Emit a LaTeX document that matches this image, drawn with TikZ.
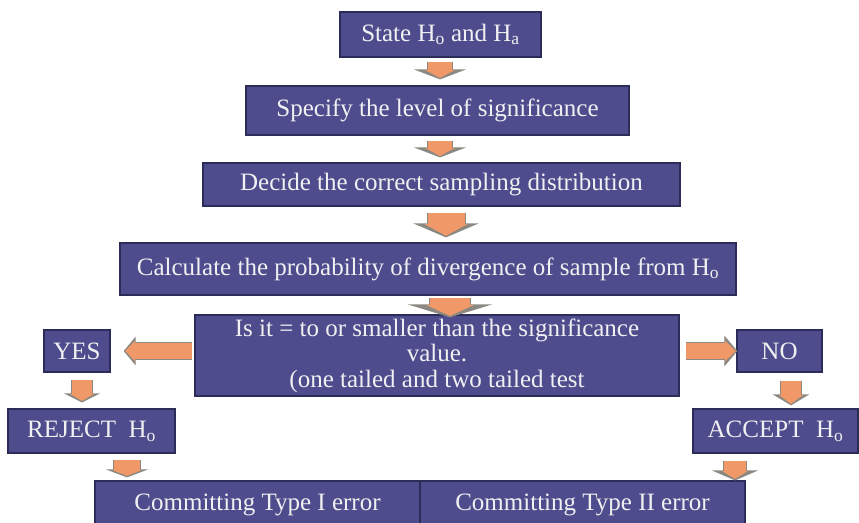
\documentclass[tikz,border=0pt]{standalone}
\usepackage{fontspec}
\setmainfont{Liberation Serif}
\usetikzlibrary{arrows.meta}

\definecolor{boxfill}{RGB}{78,76,140}
\definecolor{boxline}{RGB}{44,44,88}
\definecolor{boxtext}{RGB}{240,240,242}
\definecolor{arroworange}{RGB}{240,152,104}
\definecolor{arrowgrey}{RGB}{138,136,128}

\tikzset{
  stepbox/.style={rectangle, draw=boxline, line width=1.2pt, fill=boxfill,
    text=boxtext, inner sep=0pt, align=center,
    font=\fontsize{25}{25.5}\selectfont},
  % grey outer block arrow: shaft width, head width, head length
  outerarrow/.style n args={3}{draw=arrowgrey, line width=#1,
    -{Triangle[width=#2,length=#3]}},
  % orange inner block arrow laid over the grey one
  innerarrow/.style n args={3}{draw=arroworange, line width=#1,
    shorten >=1.5pt, -{Triangle[width=#2,length=#3]}},
}

% block arrow between two points: from, to, shaft, head width, head length, inner head width
\newcommand\blockarrow[6]{%
  \draw[outerarrow={#3+2pt}{#4}{#5}] #1 -- #2;
  \draw[innerarrow={#3}{#6}{#5-2pt}] #1 -- #2;
}

\begin{document}
\begin{tikzpicture}[x=1pt,y=-1pt]
  \useasboundingbox[fill=white] (0,0) rectangle (859,522);

  % main chain of steps
  \node[stepbox, minimum width=201pt, minimum height=45pt] (s1) at (440.5,34.5)
    {State H\textsubscript{o} and H\textsubscript{a}};
  \node[stepbox, minimum width=383pt, minimum height=49pt] (s2) at (437.5,110.5)
    {Specify the level of significance};
  \node[stepbox, minimum width=477pt, minimum height=43pt] (s3) at (441.5,184.5)
    {Decide the correct sampling distribution};
  \node[stepbox, minimum width=616pt, minimum height=52pt] (s4) at (428,269)
    {Calculate the probability of divergence of sample from H\textsubscript{o}};
  \node[stepbox, minimum width=484pt, minimum height=81pt] (s5) at (437,355.5)
    {Is it = to or smaller than the significance\\value.\\(one tailed and two tailed test};

  % decision branches
  \node[stepbox, minimum width=66pt, minimum height=42pt] (yes) at (77,351) {YES};
  \node[stepbox, minimum width=85pt, minimum height=42pt] (no) at (779.5,351) {NO};
  \node[stepbox, minimum width=167pt, minimum height=44pt] (rej) at (91.5,431)
    {REJECT\ \ H\textsubscript{o}};
  \node[stepbox, minimum width=165pt, minimum height=44pt] (acc) at (775.5,431)
    {ACCEPT\ \ H\textsubscript{o}};

  % error outcomes
  \node[stepbox, minimum width=325pt, minimum height=47pt] (c1) at (257.5,504.5)
    {Committing Type I error};
  \node[stepbox, minimum width=325pt, minimum height=47pt] (c2) at (582.5,504.5)
    {Committing Type II error};

  % block arrows
  \blockarrow{([xshift=-0.5pt,yshift=-4pt]s1.south)}{([xshift=2.5pt,yshift=6pt]s2.north)}{24pt}{52pt}{10pt}{30pt}
  \blockarrow{([xshift=2.5pt,yshift=-5pt]s2.south)}{([xshift=-1.5pt,yshift=5pt]s3.north)}{24pt}{52pt}{10pt}{30pt}
  \blockarrow{([xshift=4.5pt,yshift=-6pt]s3.south)}{([xshift=18pt,yshift=5pt]s4.north)}{37pt}{65pt}{14pt}{43pt}
  \blockarrow{([xshift=22pt,yshift=-2pt]s4.south)}{([xshift=13pt,yshift=-3pt]s5.north)}{40pt}{84pt}{13pt}{48pt}
  \blockarrow{([xshift=-2pt,yshift=4.5pt]s5.west)}{([xshift=13pt]yes.east)}{16pt}{28pt}{12pt}{20pt}
  \blockarrow{([xshift=6pt,yshift=4.5pt]s5.east)}{([xshift=1pt]no.west)}{16pt}{30pt}{13pt}{20pt}
  \blockarrow{([xshift=5pt,yshift=-7pt]yes.south)}{([xshift=-9.5pt,yshift=6pt]rej.north)}{20pt}{36pt}{9pt}{24pt}
  \blockarrow{([xshift=11.5pt,yshift=-8pt]no.south)}{([xshift=15.5pt,yshift=3pt]acc.north)}{20pt}{36pt}{11pt}{24pt}
  \blockarrow{([xshift=35.5pt,yshift=-6pt]rej.south)}{([xshift=-130.5pt,yshift=3pt]c1.north)}{26pt}{42pt}{8pt}{30pt}
  \blockarrow{([xshift=-40.5pt,yshift=-7pt]acc.south)}{([xshift=152.5pt]c2.north)}{22pt}{46pt}{10pt}{26pt}
\end{tikzpicture}
\end{document}
